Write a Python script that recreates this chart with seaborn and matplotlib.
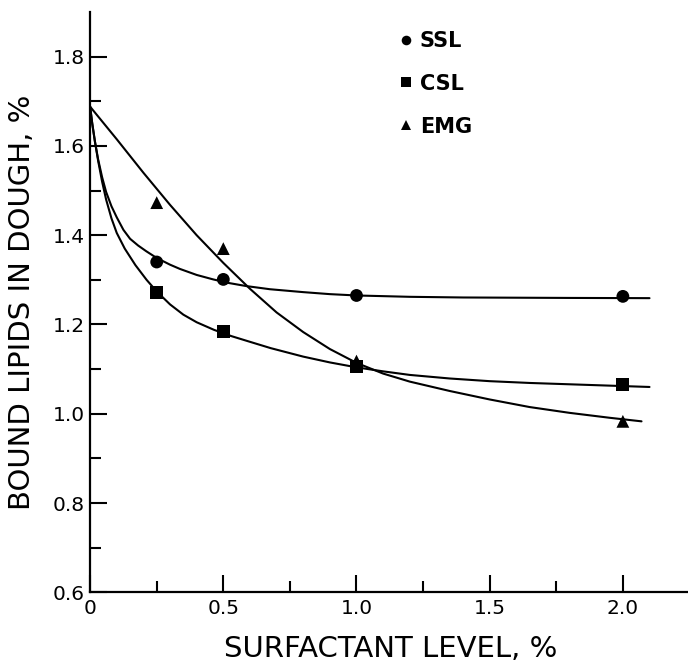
import numpy as np
import pandas as pd
import seaborn as sns
import matplotlib.pyplot as plt
from matplotlib.ticker import FixedLocator

sns.set_style('ticks')
plt.rcParams['font.family'] = ['DejaVu Sans']
plt.rcParams['text.color'] = 'black'
plt.rcParams['axes.labelcolor'] = 'black'

#measured points (surfactant level %, bound lipids %)
levels = [0.25, 0.5, 1.0, 2.0]
ssl_points = [1.340, 1.301, 1.265, 1.263]
csl_points = [1.272, 1.185, 1.105, 1.065]
emg_points = [1.473, 1.370, 1.118, 0.983]

#hand-drawn fitted curves
ssl_curve_x = [0.0, 0.008, 0.018, 0.030, 0.045, 0.060, 0.080, 0.100, 0.125, 0.150, 0.180,
               0.211, 0.250, 0.300, 0.337, 0.400, 0.462, 0.520, 0.587, 0.675, 0.800, 0.900,
               1.000, 1.200, 1.400, 1.600, 1.800, 2.100]
ssl_curve_y = [1.688, 1.650, 1.610, 1.570, 1.530, 1.497, 1.465, 1.440, 1.412, 1.392, 1.377,
               1.364, 1.349, 1.334, 1.3245, 1.311, 1.301, 1.293, 1.286, 1.279, 1.2725, 1.268,
               1.265, 1.262, 1.2605, 1.260, 1.2595, 1.259]

csl_curve_x = [0.0, 0.008, 0.018, 0.030, 0.045, 0.060, 0.080, 0.100, 0.130, 0.170, 0.212,
               0.250, 0.300, 0.350, 0.400, 0.465, 0.530, 0.590, 0.678, 0.800, 0.900, 1.000,
               1.100, 1.200, 1.350, 1.500, 1.650, 1.800, 1.950, 2.100]
csl_curve_y = [1.688, 1.650, 1.610, 1.567, 1.520, 1.480, 1.438, 1.405, 1.370, 1.333, 1.300,
               1.274, 1.245, 1.222, 1.205, 1.188, 1.174, 1.163, 1.147, 1.128, 1.115, 1.104,
               1.095, 1.087, 1.079, 1.073, 1.069, 1.066, 1.063, 1.060]

emg_curve_x = [0.0, 0.1, 0.2, 0.3, 0.4, 0.5, 0.6, 0.7, 0.8, 0.9, 1.0, 1.1, 1.2, 1.35,
               1.5, 1.65, 1.8, 1.95, 2.07]
emg_curve_y = [1.688, 1.615, 1.540, 1.468, 1.400, 1.338, 1.280, 1.227, 1.183, 1.145, 1.114,
               1.090, 1.072, 1.051, 1.032, 1.015, 1.002, 0.991, 0.983]

surfactants = ['SSL', 'CSL', 'EMG']
marker_dict = {'SSL': 'o', 'CSL': 's', 'EMG': '^'}

x_ticks = [0, 0.5, 1.0, 1.5, 2.0]
x_tick_labels = ['0', '0.5', '1.0', '1.5', '2.0']
y_ticks = [0.6, 0.8, 1.0, 1.2, 1.4, 1.6, 1.8]
y_tick_labels = ['0.6', '0.8', '1.0', '1.2', '1.4', '1.6', '1.8']

point_df = pd.DataFrame({'level': levels * 3,
                         'lipids': ssl_points + csl_points + emg_points,
                         'surfactant': [s for s in surfactants for _ in levels]})

curve_df = pd.concat([
    pd.DataFrame({'level': ssl_curve_x, 'lipids': ssl_curve_y, 'surfactant': 'SSL'}),
    pd.DataFrame({'level': csl_curve_x, 'lipids': csl_curve_y, 'surfactant': 'CSL'}),
    pd.DataFrame({'level': emg_curve_x, 'lipids': emg_curve_y, 'surfactant': 'EMG'}),
])

fig = plt.figure(figsize=(6.88, 6.70), dpi=100)
ax = fig.add_axes([0.131, 0.116, 0.875, 0.866])

#fitted curves
sns.lineplot(data=curve_df, x='level', y='lipids', units='surfactant', estimator=None,
             sort=False, color='black', linewidth=1.5, ax=ax,
             solid_joinstyle='round', solid_capstyle='round')

#measured points
sns.scatterplot(data=point_df, x='level', y='lipids', style='surfactant', markers=marker_dict,
                style_order=surfactants, color='black', s=85, edgecolor='black', linewidth=0,
                ax=ax, zorder=3)

ax.set_xlim(0, 2.26)
ax.set_ylim(0.6, 1.9)
ax.xaxis.set_major_locator(FixedLocator(x_ticks))
ax.set_xticklabels(x_tick_labels)
ax.xaxis.set_minor_locator(FixedLocator([0.25, 0.75, 1.25, 1.75]))
ax.yaxis.set_major_locator(FixedLocator(y_ticks))
ax.set_yticklabels(y_tick_labels)
ax.yaxis.set_minor_locator(FixedLocator([0.7, 0.9, 1.1, 1.3, 1.5, 1.7]))

ax.tick_params(which='major', direction='in', length=12, width=1.5, labelsize=14.5,
               color='black', labelcolor='black')
ax.tick_params(which='minor', direction='in', length=8, width=1.5, color='black')
ax.tick_params(axis='x', pad=5)
ax.tick_params(axis='y', pad=4)

sns.despine(ax=ax)
for side in ['left', 'bottom']:
    ax.spines[side].set_linewidth(1.6)
    ax.spines[side].set_color('black')

ax.set_xlabel('SURFACTANT LEVEL, %', fontsize=21, labelpad=12)
ax.set_ylabel('BOUND LIPIDS IN DOUGH, %', fontsize=21, labelpad=12)

#legend with just the markers
handles, labels = ax.get_legend_handles_labels()
ax.legend(handles, labels, loc='upper left', bbox_to_anchor=(0.477, 1.0), frameon=False,
          handletextpad=0.15, labelspacing=1.1, markerscale=0.75, handlelength=1.0,
          labelcolor='black', prop={'size': 15, 'weight': 'bold'})

plt.savefig('out.png', dpi=100)
plt.close()
